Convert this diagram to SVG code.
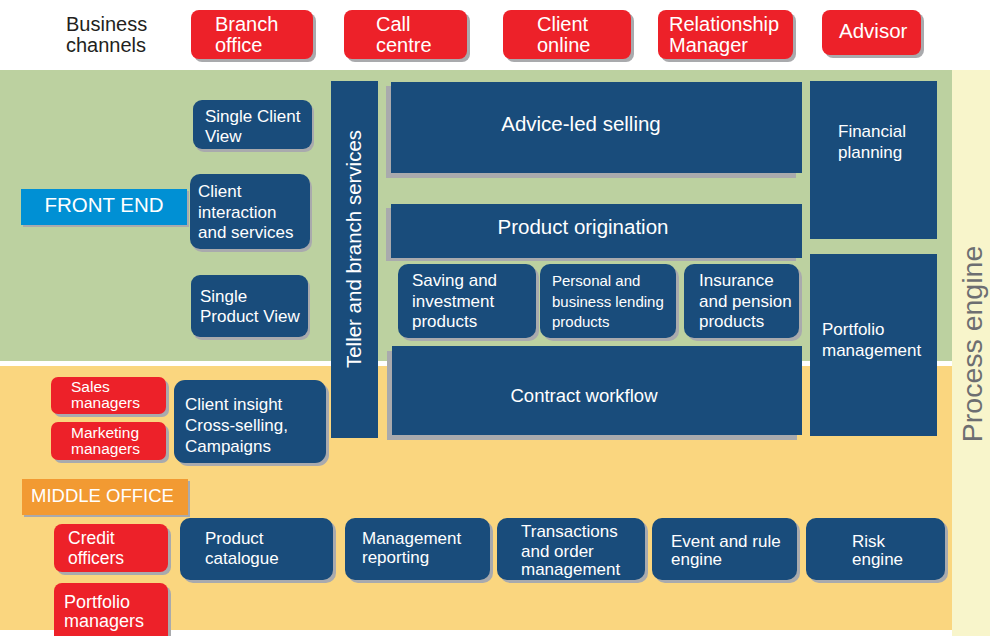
<svg xmlns="http://www.w3.org/2000/svg" width="990" height="636" viewBox="0 0 990 636">
<defs>
<style>
text{font-family:"Liberation Sans",Arial,sans-serif;fill:#fff}
.red{fill:#ED2129}
.blue{fill:#194C7B}
.sh{fill:#A9AAAD}
.t20{font-size:20.5px}
.tt{font-size:20px}
.t17{font-size:17px}
.t15{font-size:15px}
.dark{fill:#231F20}
</style>
</defs>
<rect x="0" y="0" width="990" height="636" fill="#fff"/>
<g id="bands">
<rect x="0" y="70" width="952" height="291" fill="#BCD1A0"/>
<rect x="0" y="366" width="952" height="264" fill="#FAD67F"/>
<rect x="952" y="70" width="38" height="566" fill="#F8F5CB"/>
</g>
<g id="connectors"/>
<g id="business-channels"><text class="tt dark" x="66" y="31">Business</text><text class="tt dark" x="66" y="52">channels</text></g>
<g id="branch-office"><rect class="sh" x="194" y="13" width="122" height="49" rx="8"/><rect class="red" x="191" y="10" width="122" height="49" rx="8"/><text class="tt" x="215" y="31">Branch</text><text class="tt" x="215" y="52">office</text></g>
<g id="call-centre"><rect class="sh" x="347" y="13" width="123" height="49" rx="8"/><rect class="red" x="344" y="10" width="123" height="49" rx="8"/><text class="tt" x="376" y="31">Call</text><text class="tt" x="376" y="52">centre</text></g>
<g id="client-online"><rect class="sh" x="506" y="13" width="128" height="49" rx="8"/><rect class="red" x="503" y="10" width="128" height="49" rx="8"/><text class="tt" x="537" y="31">Client</text><text class="tt" x="537" y="52">online</text></g>
<g id="relationship-manager"><rect class="sh" x="661" y="13" width="135" height="49" rx="8"/><rect class="red" x="658" y="10" width="135" height="49" rx="8"/><text class="tt" x="669" y="31">Relationship</text><text class="tt" x="669" y="52">Manager</text></g>
<g id="advisor"><rect class="sh" x="825" y="13" width="99" height="45" rx="8"/><rect class="red" x="822" y="10" width="99" height="45" rx="8"/><text class="t20" x="839" y="38">Advisor</text></g>

<g id="front-end"><rect class="sh" x="23" y="191" width="166" height="36"/><rect x="21" y="189" width="166" height="36" fill="#0090D4"/><text class="t20" x="104" y="212" text-anchor="middle">FRONT END</text></g>
<g id="single-client-view"><rect class="sh" x="195" y="103" width="119" height="49" rx="9"/><rect class="blue" x="193" y="100" width="119" height="49" rx="9"/><text class="t17" x="205" y="122">Single Client</text><text class="t17" x="205" y="142">View</text></g>
<g id="client-interaction"><rect class="sh" x="192" y="177" width="120" height="75" rx="10"/><rect class="blue" x="190" y="174" width="120" height="75" rx="10"/><text class="t17" x="198" y="197">Client</text><text class="t17" x="198" y="218">interaction</text><text class="t17" x="198" y="238">and services</text></g>
<g id="single-product-view"><rect class="sh" x="193" y="278" width="117" height="62" rx="9"/><rect class="blue" x="191" y="275" width="117" height="62" rx="9"/><text class="t17" x="200" y="302">Single</text><text class="t17" x="200" y="322">Product View</text></g>
<g id="teller"><rect class="blue" x="331" y="81" width="47" height="357"/><text class="t20" transform="translate(361 249) rotate(-90)" text-anchor="middle">Teller and branch services</text></g>
<g id="advice-led-selling"><rect class="sh" x="386" y="86" width="410" height="92"/><rect class="blue" x="391" y="82" width="411" height="91"/><text class="t20" x="581" y="131" text-anchor="middle">Advice-led selling</text></g>
<g id="product-origination"><rect class="sh" x="386" y="208" width="410" height="53"/><rect class="blue" x="391" y="204" width="411" height="54"/><text class="t20" x="583" y="234" text-anchor="middle">Product origination</text></g>
<g id="saving"><rect class="sh" x="401" y="267" width="138" height="74" rx="10"/><rect class="blue" x="398" y="264" width="138" height="74" rx="10"/><text class="t17" x="412" y="286">Saving and</text><text class="t17" x="412" y="307">investment</text><text class="t17" x="412" y="327">products</text></g>
<g id="lending"><rect class="sh" x="543" y="267" width="136" height="74" rx="10"/><rect class="blue" x="540" y="264" width="136" height="74" rx="10"/><text class="t15" x="552" y="286">Personal and</text><text class="t15" x="552" y="307">business lending</text><text class="t15" x="552" y="327">products</text></g>
<g id="insurance"><rect class="sh" x="687" y="267" width="115" height="74" rx="10"/><rect class="blue" x="684" y="264" width="115" height="74" rx="10"/><text class="t17" x="699" y="286">Insurance</text><text class="t17" x="699" y="307">and pension</text><text class="t17" x="699" y="327">products</text></g>
<g id="contract-workflow"><rect class="sh" x="387" y="351" width="410" height="89"/><rect class="blue" x="392" y="346" width="410" height="89"/><text x="584" y="402" text-anchor="middle" style="font-size:18.5px">Contract workflow</text></g>
<g id="financial-planning"><rect class="blue" x="810" y="81" width="127" height="158"/><text class="t17" x="838" y="137">Financial</text><text class="t17" x="838" y="158">planning</text></g>
<g id="portfolio-management"><rect class="blue" x="810" y="254" width="127" height="182"/><text class="t17" x="822" y="335">Portfolio</text><text class="t17" x="822" y="356">management</text></g>
<g id="process-engine"><text transform="translate(982 344) rotate(-90)" text-anchor="middle" style="font-size:28.5px;fill:#6D6E71">Process engine</text></g>

<g id="sales-managers"><rect class="sh" x="54" y="380" width="115" height="37" rx="7"/><rect class="red" x="51" y="377" width="115" height="37" rx="7"/><text x="71" y="392" style="font-size:15.5px">Sales</text><text x="71" y="408" style="font-size:15.5px">managers</text></g>
<g id="marketing-managers"><rect class="sh" x="54" y="425" width="115" height="38" rx="7"/><rect class="red" x="51" y="422" width="115" height="38" rx="7"/><text x="71" y="438" style="font-size:15.5px">Marketing</text><text x="71" y="454" style="font-size:15.5px">managers</text></g>
<g id="client-insight"><rect class="sh" x="177" y="383" width="152" height="83" rx="11"/><rect class="blue" x="174" y="380" width="152" height="83" rx="11"/><text class="t17" x="185" y="410">Client insight</text><text class="t17" x="185" y="431">Cross-selling,</text><text class="t17" x="185" y="452">Campaigns</text></g>
<g id="middle-office"><rect class="sh" x="24" y="481" width="166" height="36"/><rect x="22" y="479" width="166" height="36" fill="#F29A32"/><text x="31" y="502" style="font-size:18.5px">MIDDLE OFFICE</text></g>
<g id="credit-officers"><rect class="sh" x="57" y="527" width="114" height="48" rx="8"/><rect class="red" x="54" y="524" width="114" height="48" rx="8"/><text x="68" y="544" style="font-size:17.5px">Credit</text><text x="68" y="564" style="font-size:17.5px">officers</text></g>
<g id="portfolio-managers"><rect class="sh" x="57" y="586" width="114" height="60" rx="8"/><rect class="red" x="54" y="583" width="114" height="60" rx="8"/><text x="64" y="608" style="font-size:18px">Portfolio</text><text x="64" y="627" style="font-size:18px">managers</text></g>
<g id="product-catalogue"><rect class="sh" x="183" y="521" width="153" height="62" rx="10"/><rect class="blue" x="180" y="518" width="153" height="62" rx="10"/><text class="t17" x="205" y="544">Product</text><text class="t17" x="205" y="564">catalogue</text></g>
<g id="management-reporting"><rect class="sh" x="348" y="521" width="145" height="62" rx="10"/><rect class="blue" x="345" y="518" width="145" height="62" rx="10"/><text class="t17" x="362" y="544">Management</text><text class="t17" x="362" y="563">reporting</text></g>
<g id="transactions"><rect class="sh" x="500" y="521" width="148" height="62" rx="10"/><rect class="blue" x="497" y="518" width="148" height="62" rx="10"/><text class="t17" x="521" y="537">Transactions</text><text class="t17" x="521" y="557">and order</text><text class="t17" x="521" y="575">management</text></g>
<g id="event-rule-engine"><rect class="sh" x="655" y="521" width="145" height="62" rx="10"/><rect class="blue" x="652" y="518" width="145" height="62" rx="10"/><text class="t17" x="671" y="547">Event and rule</text><text class="t17" x="671" y="565">engine</text></g>
<g id="risk-engine"><rect class="sh" x="809" y="521" width="139" height="62" rx="10"/><rect class="blue" x="806" y="518" width="139" height="62" rx="10"/><text class="t17" x="852" y="547">Risk</text><text class="t17" x="852" y="565">engine</text></g>
</svg>
